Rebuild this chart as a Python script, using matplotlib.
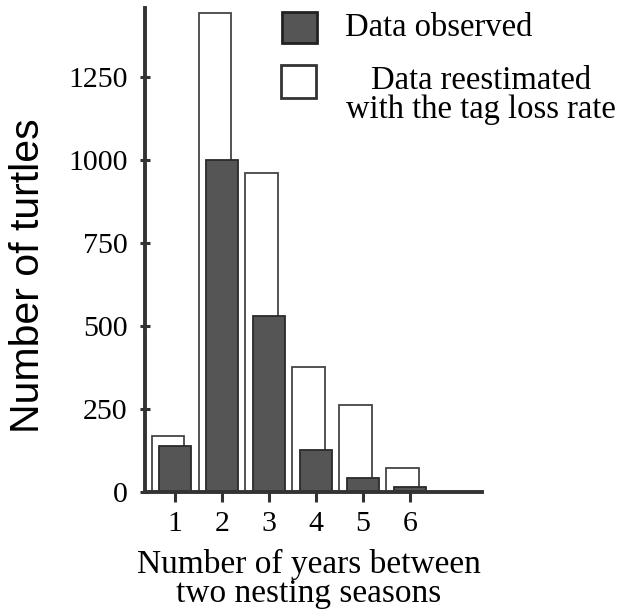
import matplotlib
matplotlib.use("Agg")
import matplotlib.pyplot as plt
from matplotlib.patches import Rectangle

years = [1, 2, 3, 4, 5, 6]
observed = [137, 1000, 528, 125, 40, 13]
reestimated = [168, 1442, 959, 375, 261, 70]
yticks = [0, 250, 500, 750, 1000, 1250]

plt.rcParams['font.family'] = ['Liberation Serif', 'DejaVu Serif']

W, H = 624, 613


def fx(px):
    return px / W


def fy(py):
    return 1 - py / H


fig = plt.figure(figsize=(W / 100, H / 100), dpi=100)
ax = fig.add_axes([145 / W, 1 - 491.5 / H, (481.7 - 145) / W, (491.5 - 8) / H])

edge = '#333333'
ax.bar([x - 0.15 for x in years], reestimated, width=0.7, color='white',
       edgecolor='#444444', linewidth=1.3, zorder=2)
ax.bar(years, observed, width=0.68, color='#555555',
       edgecolor='#2a2a2a', linewidth=1.3, zorder=3)

ax.set_xlim(0.36, 7.53)
ax.set_ylim(0, 1458)
ax.spines['top'].set_visible(False)
ax.spines['right'].set_visible(False)
for s in ('left', 'bottom'):
    ax.spines[s].set_linewidth(2.8)
    ax.spines[s].set_color(edge)
    ax.spines[s].set_zorder(4)

ax.set_yticks(yticks)
ax.set_yticklabels([str(v) for v in yticks])
ax.set_xticks(years)
ax.set_xticklabels([str(v) for v in years])
ax.tick_params(axis='y', direction='inout', length=7, width=2.2, color=edge,
               labelsize=21.5, pad=9)
ax.tick_params(axis='x', direction='out', length=7, width=2.2, color=edge,
               labelsize=21.5, pad=7)

ax.set_ylabel('Number of turtles', fontsize=29.5, family=['Liberation Sans', 'DejaVu Sans'],
              ha='center', va='center')
ax.yaxis.set_label_coords(fx(28), fy(275.5), transform=fig.transFigure)
ax.set_xlabel('Number of years between\ntwo nesting seasons', fontsize=24,
              linespacing=0.95, va='baseline', ha='center')
ax.xaxis.set_label_coords(fx(309), fy(602), transform=fig.transFigure)

# legend drawn manually
fig.add_artist(Rectangle((fx(282), fy(43)), fx(317) - fx(282), fy(12) - fy(43),
                         transform=fig.transFigure, facecolor='#555555',
                         edgecolor='#222222', linewidth=2))
fig.add_artist(Rectangle((fx(281), fy(98)), fx(316) - fx(281), fy(65) - fy(98),
                         transform=fig.transFigure, facecolor='white',
                         edgecolor='#333333', linewidth=2))
fig.text(fx(345), fy(28), 'Data observed', fontsize=23.5, ha='left', va='center')
fig.text(fx(346), fy(95), 'Data reestimated\nwith the tag loss rate', fontsize=23.5,
         ha='left', va='center', multialignment='center', linespacing=0.95)

fig.savefig('out.png', dpi=100)
